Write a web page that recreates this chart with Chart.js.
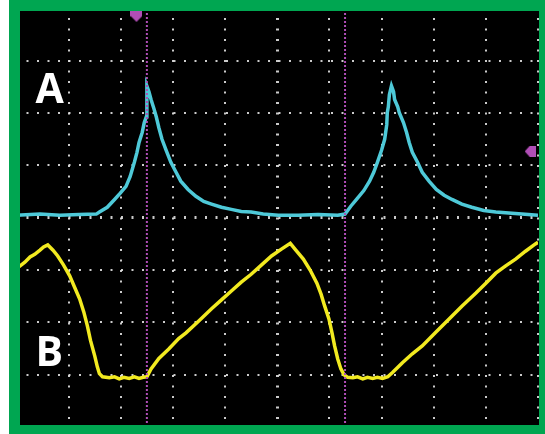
<!DOCTYPE html>
<html>
<head>
<meta charset="utf-8">
<script src="https://cdn.jsdelivr.net/npm/chart.js@4/dist/chart.umd.min.js"></script>
<style>
  html, body { margin: 0; padding: 0; background: #ffffff; }
  canvas { display: block; }
</style>
</head>
<body>
<canvas id="scope" width="545" height="434"></canvas>
<script>
// Oscilloscope capture: time in graticule divisions (10 across),
// amplitude in divisions (8 high, centre = 0).

// Channel A (cyan): current pulses
const timeA = [0.00, 0.45, 0.83, 1.20, 1.53, 1.59, 1.74, 1.88, 1.99, 2.10, 2.18, 2.26, 2.31, 2.35, 2.41, 2.45, 2.49, 2.50, 2.50, 2.54, 2.58, 2.64, 2.68, 2.73, 2.79, 2.87, 2.96, 3.06, 3.15, 3.29, 3.44, 3.59, 3.74, 3.93, 4.12, 4.31, 4.50, 4.73, 5.02, 5.40, 5.78, 6.16, 6.30, 6.41, 6.52, 6.66, 6.77, 6.85, 6.92, 7.00, 7.06, 7.10, 7.11, 7.13, 7.15, 7.19, 7.23, 7.25, 7.31, 7.34, 7.42, 7.48, 7.53, 7.59, 7.69, 7.78, 7.91, 8.05, 8.20, 8.35, 8.54, 8.73, 8.96, 9.19, 9.44, 9.69, 10.00];
const voltsA = [0.05, 0.07, 0.05, 0.06, 0.07, 0.11, 0.20, 0.35, 0.47, 0.60, 0.79, 1.06, 1.25, 1.44, 1.63, 1.82, 1.93, 2.35, 2.52, 2.41, 2.26, 2.07, 1.93, 1.72, 1.50, 1.29, 1.06, 0.87, 0.70, 0.54, 0.41, 0.31, 0.26, 0.20, 0.16, 0.12, 0.11, 0.07, 0.05, 0.05, 0.06, 0.05, 0.07, 0.22, 0.35, 0.52, 0.70, 0.87, 1.06, 1.29, 1.50, 1.78, 2.01, 2.12, 2.35, 2.52, 2.41, 2.26, 2.12, 2.01, 1.82, 1.63, 1.44, 1.25, 1.06, 0.87, 0.70, 0.54, 0.43, 0.35, 0.26, 0.20, 0.14, 0.11, 0.09, 0.07, 0.05];

// Channel B (yellow): ramp / clamp waveform
const timeB = [0.00, 0.07, 0.16, 0.26, 0.35, 0.45, 0.52, 0.60, 0.70, 0.79, 0.90, 1.02, 1.11, 1.21, 1.29, 1.36, 1.42, 1.50, 1.55, 1.59, 1.65, 1.78, 1.88, 1.97, 2.06, 2.16, 2.26, 2.35, 2.43, 2.50, 2.58, 2.73, 2.92, 3.11, 3.25, 3.50, 3.74, 3.93, 4.12, 4.31, 4.50, 4.70, 4.89, 5.08, 5.25, 5.34, 5.50, 5.63, 5.76, 5.84, 5.91, 5.99, 6.05, 6.10, 6.16, 6.22, 6.28, 6.35, 6.45, 6.54, 6.64, 6.73, 6.83, 6.92, 7.02, 7.12, 7.21, 7.40, 7.59, 7.78, 8.03, 8.30, 8.54, 8.81, 9.00, 9.19, 9.38, 9.57, 9.76, 9.95, 10.00];
const voltsB = [-0.97, -0.92, -0.85, -0.75, -0.70, -0.62, -0.56, -0.52, -0.62, -0.73, -0.90, -1.11, -1.32, -1.55, -1.80, -2.07, -2.35, -2.64, -2.85, -2.98, -3.04, -3.06, -3.04, -3.08, -3.05, -3.07, -3.04, -3.07, -3.05, -3.04, -2.89, -2.69, -2.51, -2.31, -2.20, -1.97, -1.74, -1.57, -1.40, -1.23, -1.08, -0.90, -0.73, -0.60, -0.49, -0.60, -0.79, -1.00, -1.25, -1.46, -1.69, -1.93, -2.20, -2.45, -2.70, -2.89, -3.00, -3.05, -3.06, -3.04, -3.08, -3.05, -3.07, -3.05, -3.07, -3.04, -2.96, -2.77, -2.60, -2.45, -2.20, -1.93, -1.69, -1.44, -1.25, -1.06, -0.92, -0.79, -0.64, -0.50, -0.47];

// Vertical cursors
const cursorTimes = [2.50, 6.30];

// Trigger indicators: position (top edge) and level (right edge)
const triggerTime = [2.30, 9.85];
const triggerLevel = [3.85, 1.27];

// Graticule
const timeDivs = [0, 10];
const ampDivs = [-4, 4];
const traceNames = ['A', 'B'];

const CYAN = 'rgb(78,201,216)';
const YELLOW = 'rgb(242,234,32)';
const MAGENTA = 'rgb(176,78,182)';
const DOT = 'rgba(225,225,225,0.9)';
const FRAME = 'rgb(0,166,81)';

function zip(xs, ys) { return xs.map((x, i) => ({ x, y: ys[i] })); }

// Marker glyphs for trigger indicators
function markerDown() {
  const c = document.createElement('canvas');
  c.width = 12; c.height = 11;
  const g = c.getContext('2d');
  g.fillStyle = MAGENTA;
  g.beginPath();
  g.moveTo(0, 0); g.lineTo(12, 0); g.lineTo(12, 5); g.lineTo(6, 11); g.lineTo(0, 5);
  g.closePath(); g.fill();
  return c;
}
function markerLeft() {
  const c = document.createElement('canvas');
  c.width = 11; c.height = 11;
  const g = c.getContext('2d');
  g.fillStyle = MAGENTA;
  g.beginPath();
  g.moveTo(0, 5.5); g.lineTo(5, 0); g.lineTo(11, 0); g.lineTo(11, 11); g.lineTo(5, 11);
  g.closePath(); g.fill();
  return c;
}

const scopeFrame = {
  id: 'scopeFrame',
  beforeDraw(chart) {
    const { ctx, width, height } = chart;
    ctx.save();
    ctx.fillStyle = '#000';
    ctx.fillRect(0, 0, width, height);
    ctx.restore();
  },
  afterDatasetsDraw(chart) {
    const { ctx, chartArea } = chart;
    ctx.save();
    ctx.fillStyle = '#ffffff';
    ctx.font = 'bold 41px "Open Sans", "DejaVu Sans", sans-serif';
    ctx.textBaseline = 'alphabetic';
    ctx.fillText(traceNames[0], chartArea.left + 19, chartArea.top + 94);
    ctx.fillText(traceNames[1], chartArea.left + 19, chartArea.top + 357);
    ctx.restore();
  },
  afterDraw(chart) {
    const { ctx, width, height } = chart;
    ctx.save();
    ctx.fillStyle = '#ffffff';
    ctx.fillRect(0, 0, 9, height);
    ctx.beginPath();
    ctx.rect(9, 0, width - 9, height);
    ctx.rect(20, 11, 519, 414);
    ctx.fillStyle = FRAME;
    ctx.fill('evenodd');
    ctx.restore();
  }
};

const gridStyle = (centre) => ({
  drawTicks: false,
  color: DOT,
  lineWidth: (c) => (c.tick && c.tick.value === centre ? 3 : 2)
});

new Chart(document.getElementById('scope'), {
  type: 'scatter',
  data: {
    datasets: [
      {
        label: 'cursor 1',
        data: [{ x: cursorTimes[0], y: ampDivs[0] }, { x: cursorTimes[0], y: ampDivs[1] }],
        showLine: true, borderColor: MAGENTA, borderWidth: 2, borderDash: [2, 2],
        pointRadius: 0, order: 0
      },
      {
        label: 'cursor 2',
        data: [{ x: cursorTimes[1], y: ampDivs[0] }, { x: cursorTimes[1], y: ampDivs[1] }],
        showLine: true, borderColor: MAGENTA, borderWidth: 2, borderDash: [2, 2],
        pointRadius: 0, order: 0
      },
      {
        label: 'A',
        data: zip(timeA, voltsA),
        showLine: true, borderColor: CYAN, borderWidth: 3.5, tension: 0,
        pointRadius: 0, order: 1
      },
      {
        label: 'B',
        data: zip(timeB, voltsB),
        showLine: true, borderColor: YELLOW, borderWidth: 3.5, tension: 0,
        pointRadius: 0, order: 1
      },
      {
        label: 'trigger position',
        data: [{ x: triggerTime[0], y: triggerLevel[0] }],
        pointStyle: markerDown(), pointRadius: 6, order: 0
      },
      {
        label: 'trigger level',
        data: [{ x: triggerTime[1], y: triggerLevel[1] }],
        pointStyle: markerLeft(), pointRadius: 6, order: 0
      }
    ]
  },
  options: {
    responsive: false,
    animation: false,
    events: [],
    layout: { padding: { left: 16.5, top: 8.5, right: 3.5, bottom: 5.5 } },
    plugins: { legend: { display: false }, tooltip: { enabled: false } },
    scales: {
      x: {
        type: 'linear', min: timeDivs[0], max: timeDivs[1],
        ticks: { display: false, stepSize: 1 },
        grid: gridStyle(5),
        border: { display: false, dash: [2, 8.5], dashOffset: 1 }
      },
      y: {
        type: 'linear', min: ampDivs[0], max: ampDivs[1],
        ticks: { display: false, stepSize: 1 },
        grid: gridStyle(0),
        border: { display: false, dash: [2, 8.5], dashOffset: 1 }
      }
    }
  },
  plugins: [scopeFrame]
});
</script>
</body>
</html>
